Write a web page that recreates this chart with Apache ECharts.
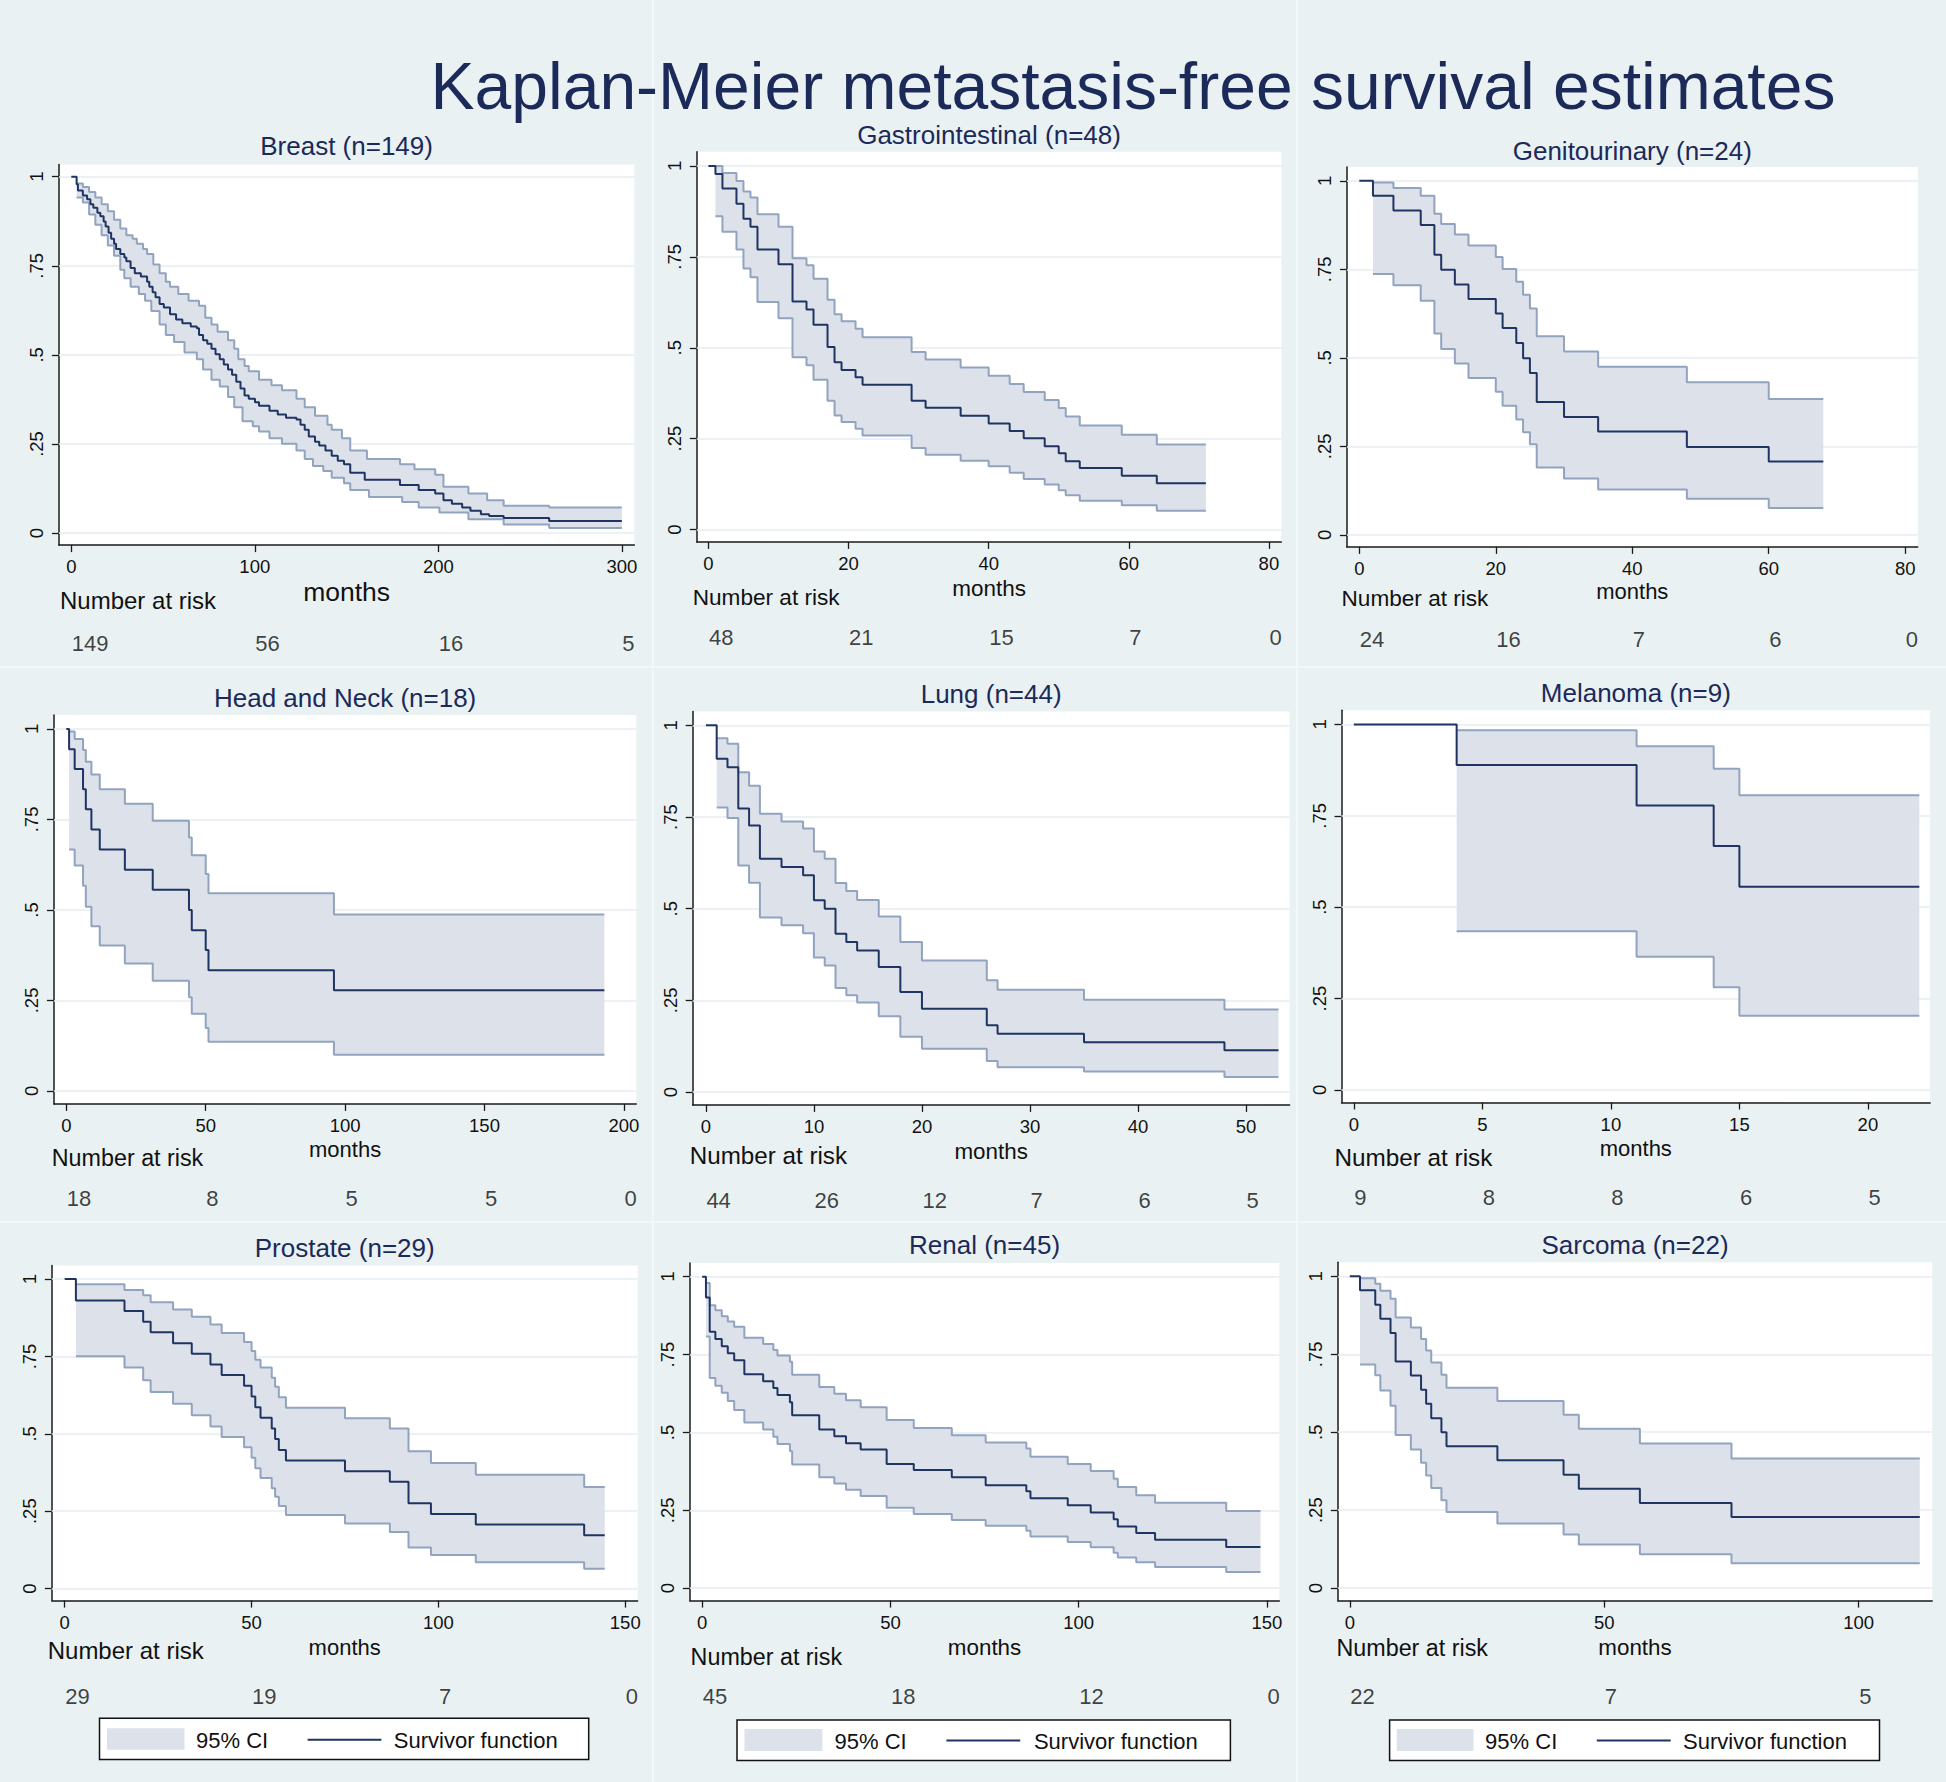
<!DOCTYPE html>
<html><head><meta charset="utf-8">
<script src="https://cdn.jsdelivr.net/npm/echarts@6/dist/echarts.min.js"></script>
<style>html,body{margin:0;padding:0;background:#eaf1f3}#c{width:1946px;height:1782px}</style>
</head><body><div id="c"></div>
<script>
// ---------------- DATA ----------------
const mainTitle = 'Kaplan-Meier metastasis-free survival estimates';
const panelNames = ['Breast (n=149)','Gastrointestinal (n=48)','Genitourinary (n=24)','Head and Neck (n=18)','Lung (n=44)','Melanoma (n=9)','Prostate (n=29)','Renal (n=45)','Sarcoma (n=22)'];
const yTicks = [0, 0.25, 0.5, 0.75, 1];
const yTickLabels = ['0', '.25', '.5', '.75', '1'];

// Breast
const breastT = [0,2.9,3.6,6.3,8.6,10.4,12.0,14.2,15.8,17.6,18.7,20.3,21.7,23.3,24.4,26.7,28.9,30.0,32.3,34.6,37.9,41.3,42.5,44.3,45.9,48.1,50.4,53.8,57.1,60.5,65.1,68.4,69.6,71.8,74.1,76.4,78.6,80.9,83.1,85.4,87.6,89.9,92.2,94.4,96.7,100.1,102.3,108.0,112.5,117.0,122.7,124.9,127.2,129.4,132.8,135.1,138.5,141.9,145.2,148.6,152.0,159.9,179.1,189.3,198.3,202.8,207.4,213.0,217.5,223.2,227.7,235.6,260.4,300];
const breastS = [1,0.979,0.961,0.947,0.937,0.923,0.913,0.899,0.889,0.874,0.860,0.843,0.826,0.812,0.797,0.783,0.773,0.763,0.744,0.729,0.720,0.705,0.691,0.676,0.662,0.643,0.633,0.614,0.599,0.589,0.580,0.575,0.556,0.541,0.531,0.517,0.502,0.488,0.473,0.459,0.444,0.425,0.406,0.386,0.377,0.367,0.357,0.343,0.333,0.324,0.319,0.304,0.290,0.271,0.256,0.246,0.232,0.217,0.203,0.193,0.169,0.150,0.135,0.121,0.111,0.092,0.082,0.072,0.063,0.053,0.048,0.042,0.034,0.034];
const breastUT = [2.9,6.3,9.7,13.1,16.5,19.9,23.3,26.7,30.0,33.4,35.7,39.1,41.3,44.7,48.1,51.5,53.8,58.3,63.9,69.6,73.0,76.4,79.7,85.4,88.8,91.0,94.4,96.7,102.3,109.1,114.8,122.7,127.2,132.8,139.6,141.9,147.5,152.0,161.1,179.1,187.0,198.3,202.8,216.4,226.6,235.6,260.4,300];
const breastU = [0.981,0.971,0.957,0.942,0.923,0.903,0.879,0.855,0.836,0.826,0.812,0.797,0.783,0.754,0.729,0.705,0.691,0.671,0.652,0.638,0.604,0.585,0.565,0.541,0.517,0.488,0.469,0.454,0.430,0.415,0.401,0.377,0.353,0.329,0.304,0.290,0.266,0.232,0.208,0.193,0.179,0.164,0.130,0.111,0.092,0.077,0.072,0.072];
const breastLT = [2.9,6.3,9.7,13.1,16.5,19.9,23.3,26.7,28.9,32.3,36.8,40.2,43.6,48.1,51.5,56.0,61.7,68.4,71.8,76.4,80.9,85.4,88.8,93.3,98.9,102.3,108.0,114.8,122.7,127.2,131.7,137.3,141.9,148.6,152.0,162.2,180.3,189.3,200.6,216.4,235.6,260.4,300];
const breastL = [0.942,0.928,0.894,0.865,0.836,0.807,0.778,0.739,0.715,0.691,0.671,0.652,0.623,0.585,0.556,0.536,0.507,0.488,0.459,0.430,0.411,0.382,0.353,0.314,0.300,0.285,0.266,0.251,0.232,0.208,0.188,0.174,0.155,0.140,0.121,0.101,0.087,0.072,0.058,0.039,0.024,0.014,0.014];
const breastTicks = [0,100,200,300];
const breastRisk = [149,56,16,5];

// Gastrointestinal
const gastroT = [0,1,2,4,5,6,7,10,12,14,15,17,18,19,21,22,29,31,36,40,43,45,48,50,51,53,59,64,71];
const gastroS = [1,0.978,0.938,0.896,0.855,0.833,0.770,0.730,0.627,0.605,0.563,0.502,0.460,0.439,0.419,0.398,0.354,0.335,0.313,0.292,0.271,0.251,0.229,0.210,0.188,0.169,0.148,0.127,0.127];
const gastroCT = [1,2,4,5,6,7,10,12,14,15,17,18,19,21,22,29,31,36,40,43,45,48,50,51,53,59,64,71];
const gastroU = [1.0,0.981,0.959,0.930,0.913,0.867,0.833,0.746,0.727,0.690,0.632,0.592,0.573,0.552,0.529,0.488,0.468,0.446,0.423,0.400,0.378,0.356,0.334,0.311,0.286,0.261,0.234,0.234];
const gastroL = [0.862,0.819,0.770,0.718,0.694,0.626,0.581,0.474,0.452,0.412,0.354,0.314,0.296,0.277,0.259,0.224,0.206,0.189,0.174,0.156,0.139,0.124,0.108,0.094,0.079,0.067,0.052,0.052];
const gastroTicks = [0,20,40,60,80];
const gastroRisk = [48,21,15,7,0];

// Genitourinary
const genitoT = [0,2,5,9,11,12,14,16,20,21,23,24,25,26,30,35,48,60,68];
const genitoS = [1,0.958,0.916,0.875,0.791,0.749,0.707,0.666,0.625,0.584,0.542,0.499,0.457,0.375,0.333,0.292,0.248,0.207,0.207];
const genitoCT = [2,5,9,11,12,14,16,20,21,23,24,25,26,30,35,48,60,68];
const genitoU = [0.995,0.980,0.958,0.907,0.878,0.848,0.817,0.785,0.751,0.715,0.678,0.639,0.561,0.518,0.475,0.431,0.384,0.384];
const genitoL = [0.737,0.705,0.661,0.569,0.525,0.484,0.443,0.404,0.365,0.326,0.290,0.256,0.190,0.159,0.128,0.102,0.076,0.076];
const genitoTicks = [0,20,40,60,80];
const genitoRisk = [24,16,7,6,0];

// Head and Neck
const hnT = [0,1,3,6,7,9,12,21,31,44,45,50,51,96,193];
const hnS = [1,0.944,0.889,0.833,0.778,0.722,0.667,0.611,0.556,0.500,0.444,0.389,0.333,0.278,0.278];
const hnCT = [1,3,6,7,9,12,21,31,44,45,50,51,96,193];
const hnU = [0.993,0.972,0.942,0.909,0.874,0.833,0.793,0.746,0.700,0.651,0.599,0.546,0.487,0.487];
const hnL = [0.667,0.623,0.567,0.509,0.455,0.402,0.352,0.304,0.259,0.213,0.174,0.136,0.100,0.100];
const hnTicks = [0,50,100,150,200];
const hnRisk = [18,8,5,5,0];

// Lung
const lungT = [0,1,2,3,4,5,7,9,10,11,12,13,14,16,18,20,26,27,35,48,53];
const lungS = [1,0.909,0.886,0.773,0.727,0.636,0.614,0.591,0.523,0.500,0.432,0.409,0.386,0.341,0.273,0.227,0.182,0.159,0.136,0.114,0.114];
const lungCT = [1,2,3,4,5,7,9,10,11,12,13,14,16,18,20,26,27,35,48,53];
const lungU = [0.965,0.950,0.872,0.835,0.759,0.738,0.719,0.656,0.636,0.570,0.548,0.524,0.479,0.409,0.359,0.305,0.279,0.252,0.225,0.225];
const lungL = [0.776,0.747,0.618,0.571,0.476,0.455,0.433,0.367,0.345,0.284,0.264,0.244,0.207,0.151,0.118,0.085,0.068,0.056,0.041,0.041];
const lungTicks = [0,10,20,30,40,50];
const lungRisk = [44,26,12,7,6,5];

// Melanoma
const melT = [0,4,11,14,15,22];
const melS = [1,0.889,0.778,0.667,0.556,0.556];
const melCT = [4,11,14,15,22];
const melU = [0.984,0.940,0.879,0.806,0.806];
const melL = [0.434,0.364,0.281,0.203,0.203];
const melTicks = [0,5,10,15,20];
const melRisk = [9,8,8,6,5];

// Prostate
const prosT = [0,3,16,21,23,29,34,39,42,48,50,51,52.4,55.4,56.3,57.3,59.2,75,87,92,98,110,139,144.5];
const prosS = [1,0.931,0.897,0.862,0.828,0.793,0.759,0.724,0.690,0.655,0.621,0.586,0.552,0.517,0.483,0.448,0.414,0.379,0.345,0.276,0.241,0.207,0.172,0.172];
const prosCT = [3,16,21,23,29,34,39,42,48,50,51,52.4,55.4,56.3,57.3,59.2,75,87,92,98,110,139,144.5];
const prosU = [0.983,0.965,0.948,0.925,0.902,0.878,0.853,0.826,0.797,0.768,0.739,0.714,0.681,0.652,0.618,0.584,0.550,0.517,0.444,0.406,0.368,0.328,0.328];
const prosL = [0.751,0.714,0.673,0.635,0.597,0.560,0.524,0.490,0.457,0.423,0.389,0.357,0.324,0.297,0.267,0.238,0.210,0.183,0.133,0.108,0.085,0.064,0.064];
const prosTicks = [0,50,100,150];
const prosRisk = [29,19,7,0];

// Renal
const renalT = [0,1,2,3.5,5.2,6.8,8.5,11.2,16.2,18.9,20,23.3,23.9,31.1,35.1,38.2,42.1,49,56.2,66.3,75.3,86.1,87.2,97.1,103.2,109.3,110.4,115.3,120.3,139.2,148.3];
const renalS = [1,0.933,0.823,0.800,0.777,0.754,0.732,0.687,0.664,0.643,0.620,0.597,0.555,0.509,0.488,0.465,0.445,0.399,0.379,0.356,0.330,0.311,0.289,0.266,0.243,0.221,0.198,0.177,0.155,0.132,0.132];
const renalCT = [1,2,3.5,5.2,6.8,8.5,11.2,16.2,18.9,20,23.3,23.9,31.1,35.1,38.2,42.1,49,56.2,66.3,75.3,86.1,87.2,97.1,103.2,109.3,110.4,115.3,120.3,139.2,148.3];
const renalU = [0.980,0.908,0.892,0.873,0.856,0.839,0.804,0.784,0.765,0.747,0.727,0.685,0.646,0.624,0.603,0.581,0.540,0.514,0.491,0.468,0.448,0.422,0.399,0.376,0.351,0.325,0.298,0.274,0.248,0.248];
const renalL = [0.808,0.675,0.650,0.627,0.601,0.572,0.532,0.509,0.486,0.463,0.440,0.397,0.356,0.336,0.316,0.296,0.258,0.238,0.219,0.200,0.184,0.166,0.148,0.131,0.114,0.098,0.083,0.068,0.052,0.052];
const renalTicks = [0,50,100,150];
const renalRisk = [45,18,12,0];

// Sarcoma
const sarcT = [0,2,5,6,8,9,12,14,15,16,18,19,29,42,45,57,75,112];
const sarcS = [1,0.955,0.909,0.864,0.818,0.727,0.682,0.636,0.591,0.545,0.500,0.455,0.410,0.364,0.319,0.273,0.228,0.228];
const sarcCT = [2,5,6,8,9,12,14,15,16,18,19,29,42,45,57,75,112];
const sarcU = [0.994,0.976,0.954,0.928,0.868,0.836,0.799,0.762,0.724,0.684,0.643,0.600,0.556,0.511,0.464,0.416,0.416];
const sarcL = [0.717,0.683,0.634,0.585,0.491,0.445,0.402,0.361,0.321,0.282,0.244,0.207,0.172,0.140,0.109,0.080,0.080];
const sarcTicks = [0,50,100];
const sarcRisk = [22,7,5];

const legendLabels = ['95% CI', 'Survivor function'];

// ---------------- PANELS ----------------
const panels = [
  {T:breastT,S:breastS,UT:breastUT,U:breastU,LT:breastLT,L:breastL,ticks:breastTicks,risk:breastRisk},
  {T:gastroT,S:gastroS,UT:gastroCT,U:gastroU,LT:gastroCT,L:gastroL,ticks:gastroTicks,risk:gastroRisk},
  {T:genitoT,S:genitoS,UT:genitoCT,U:genitoU,LT:genitoCT,L:genitoL,ticks:genitoTicks,risk:genitoRisk},
  {T:hnT,S:hnS,UT:hnCT,U:hnU,LT:hnCT,L:hnL,ticks:hnTicks,risk:hnRisk},
  {T:lungT,S:lungS,UT:lungCT,U:lungU,LT:lungCT,L:lungL,ticks:lungTicks,risk:lungRisk},
  {T:melT,S:melS,UT:melCT,U:melU,LT:melCT,L:melL,ticks:melTicks,risk:melRisk},
  {T:prosT,S:prosS,UT:prosCT,U:prosU,LT:prosCT,L:prosL,ticks:prosTicks,risk:prosRisk},
  {T:renalT,S:renalS,UT:renalCT,U:renalU,LT:renalCT,L:renalL,ticks:renalTicks,risk:renalRisk},
  {T:sarcT,S:sarcS,UT:sarcCT,U:sarcU,LT:sarcCT,L:sarcL,ticks:sarcTicks,risk:sarcRisk}
];

// ---------------- LAYOUT ----------------
const layout = [
 {l:58.9, t:164.6, w:575.4, h:380.5, x0:-6.76, x1:306.8, y0:-0.0337, y1:1.034, ty:145.7, my:591.6, ms:26.5, nx:60, ny:600.2, ns:24, ry:643.3},
 {l:696.8, t:151.8, w:584.5, h:390.1, x0:-1.66, x1:81.77, y0:-0.034, y1:1.039, ty:135.3, my:588.5, ms:22.5, nx:692.7, ny:597.3, ns:22.6, ry:637.6},
 {l:1346.9, t:167, w:570.8, h:379.9, x0:-1.82, x1:81.83, y0:-0.034, y1:1.039, ty:150.8, my:591.6, ms:22, nx:1341.5, ny:598.5, ns:22.6, ry:639.8},
 {l:53.9, t:714.9, w:582.4, h:389, x0:-4.45, x1:204.45, y0:-0.0359, y1:1.0387, ty:698, my:1149.8, ms:22, nx:51.8, ny:1157.5, ns:23.3, ry:1198.9},
 {l:692.7, t:711.4, w:596.9, h:393.5, x0:-1.22, x1:54.03, y0:-0.035, y1:1.038, ty:693.9, my:1151.2, ms:22.4, nx:689.8, ny:1155.8, ns:24.2, ry:1200.3},
 {l:1341.5, t:710.3, w:588.6, h:392.2, x0:-0.48, x1:22.42, y0:-0.0345, y1:1.0386, ty:692.8, my:1148.8, ms:22, nx:1334.4, ny:1157.5, ns:24.3, ry:1197.9},
 {l:51.8, t:1265.5, w:585.8, h:335.1, x0:-3.45, x1:153.3, y0:-0.039, y1:1.044, ty:1248, my:1647.2, ms:22, nx:47.7, ny:1650.1, ns:24, ry:1696},
 {l:689.8, t:1263, w:589.5, h:337.6, x0:-3.29, x1:153.3, y0:-0.040, y1:1.044, ty:1245, my:1647, ms:22.4, nx:690.6, ny:1656.6, ns:23.3, ry:1696.7},
 {l:1337.8, t:1262.3, w:594.4, h:338.3, x0:-2.36, x1:114.44, y0:-0.040, y1:1.045, ty:1245, my:1647, ms:22.4, nx:1336.5, ny:1648.3, ns:23.3, ry:1696.7}
];
const legendBoxes = [
 {bx:99.5, by:1718.2, bw:489.2, bh:41.2, sx:107, sw:77.5, sy:1728.2, sh:21.5, cx:196, lx1:307.6, lx2:381.4, ly:1739.7, fx:393.8, ty:1740.5},
 {bx:737, by:1720, bw:493.4, bh:40.5, sx:744.5, sw:77.9, sy:1729, sh:22, cx:834.5, lx1:946.4, lx2:1020.2, ly:1740.4, fx:1033.9, ty:1741},
 {bx:1389.6, by:1720, bw:489.9, bh:40.5, sx:1396.7, sw:76.8, sy:1729, sh:22, cx:1485.1, lx1:1596.8, lx2:1670.7, ly:1740.4, fx:1683.1, ty:1741}
];

const FONT = '"Liberation Sans", Arial, Helvetica, sans-serif';
const BG = '#eaf1f3', NAVY = '#1b2a59', BAND = '#dde2ea', CIL = '#91a3bf', SURV = '#1f3463', GRIDC = '#e5edf1', AX = '#1a1a1a', TXT = '#111111';

function zip(T, V) { return T.map((t, i) => [t, V[i]]); }
// step-function vertices (value holds until next time)
function stepPts(T, V) {
  const out = [];
  for (let i = 0; i < T.length; i++) {
    if (i > 0) out.push([T[i], V[i - 1]]);
    out.push([T[i], V[i]]);
  }
  return out;
}

const grids = [], xAxes = [], yAxes = [], series = [], graphics = [];

graphics.push({type:'text', x:1133, y:86, z:10, style:{text:mainTitle, font:'66px ' + FONT, fill:NAVY, align:'center', verticalAlign:'middle'}});
[[653,0,653,1782],[1297,0,1297,1782],[0,667,1946,667],[0,1222,1946,1222]].forEach(s => {
  graphics.push({type:'line', z:-1, shape:{x1:s[0],y1:s[1],x2:s[2],y2:s[3]}, style:{stroke:'#f3f7f8', lineWidth:2}});
});

panels.forEach((p, i) => {
  const L = layout[i];
  const gi = 2 * i, ni = 2 * i + 1;
  grids.push({left:L.l, top:L.t, width:L.w, height:L.h, show:true, backgroundColor:'#ffffff', borderWidth:0, containLabel:false, outerBoundsMode:'none'});
  grids.push({left:L.l, top:L.ry - 12, width:L.w, height:24, show:false, containLabel:false, outerBoundsMode:'none'});
  xAxes.push({type:'value', gridIndex:gi, min:L.x0, max:L.x1,
    axisLine:{show:true, onZero:false, lineStyle:{color:AX, width:1.5}},
    axisTick:{show:true, length:7, customValues:p.ticks, lineStyle:{color:AX, width:1.3}},
    axisLabel:{show:true, customValues:p.ticks, fontSize:18.5, color:TXT, margin:12, fontFamily:FONT},
    splitLine:{show:false}});
  xAxes.push({type:'value', gridIndex:ni, min:L.x0, max:L.x1, show:false});
  yAxes.push({type:'value', gridIndex:gi, min:L.y0, max:L.y1,
    axisLine:{show:true, onZero:false, lineStyle:{color:AX, width:1.5}},
    axisTick:{show:true, length:7, customValues:yTicks, lineStyle:{color:AX, width:1.3}},
    axisLabel:{show:true, customValues:yTicks, rotate:90, margin:13, fontSize:18.5, color:TXT, fontFamily:FONT,
      formatter: v => { const k = yTicks.findIndex(t => Math.abs(t - v) < 1e-9); return k >= 0 ? yTickLabels[k] : ''; }},
    splitLine:{show:false}});
  yAxes.push({type:'value', gridIndex:ni, min:0, max:1, show:false});

  // CI band polygon: upper step path forward, lower step path backward
  const up = stepPts(p.UT, p.U), lowPts = stepPts(p.LT, p.L).reverse();
  series.push({type:'custom', xAxisIndex:gi, yAxisIndex:gi, silent:true, animation:false, z:2,
    data:[[p.UT[0], p.U[0]]],
    renderItem: (params, api) => ({
      type:'polygon', shape:{points: up.concat(lowPts).map(pt => api.coord(pt))},
      style:{fill:BAND, stroke:null}
    }),
    markLine:{silent:true, symbol:['none','none'], label:{show:false}, z:1, animation:false,
      lineStyle:{color:GRIDC, width:1.5, type:'solid'}, emphasis:{disabled:true},
      data: yTicks.map(v => ({yAxis:v}))}
  });
  const common = {type:'line', xAxisIndex:gi, yAxisIndex:gi, step:'end', symbol:'none', silent:true, animation:false};
  series.push(Object.assign({}, common, {data:zip(p.UT, p.U), lineStyle:{color:CIL, width:2}, z:3}));
  series.push(Object.assign({}, common, {data:zip(p.LT, p.L), lineStyle:{color:CIL, width:2}, z:3}));
  series.push(Object.assign({}, common, {data:zip(p.T, p.S), lineStyle:{color:SURV, width:2}, z:4}));
  // numbers at risk
  series.push({type:'scatter', xAxisIndex:ni, yAxisIndex:ni, silent:true, animation:false, clip:false,
    data: p.ticks.map((t, j) => [t, 0.5, p.risk[j]]), symbolSize:1, itemStyle:{color:'rgba(0,0,0,0)'},
    label:{show:true, position:'right', distance:0, formatter: d => String(d.data[2]), fontSize:22, color:TXT, fontFamily:FONT}});

  const cx = L.l + L.w / 2;
  graphics.push({type:'text', x:cx, y:L.ty, style:{text:panelNames[i], font:'26px ' + FONT, fill:NAVY, align:'center', verticalAlign:'middle'}});
  graphics.push({type:'text', x:cx, y:L.my, style:{text:'months', font:L.ms + 'px ' + FONT, fill:TXT, align:'center', verticalAlign:'middle'}});
  graphics.push({type:'text', x:L.nx, y:L.ny, style:{text:'Number at risk', font:L.ns + 'px ' + FONT, fill:TXT, align:'left', verticalAlign:'middle'}});
});

legendBoxes.forEach(b => {
  graphics.push({type:'rect', shape:{x:b.bx, y:b.by, width:b.bw, height:b.bh}, style:{fill:'#ffffff', stroke:'#111', lineWidth:1.5}});
  graphics.push({type:'rect', shape:{x:b.sx, y:b.sy, width:b.sw, height:b.sh}, style:{fill:BAND}});
  graphics.push({type:'text', x:b.cx, y:b.ty, style:{text:legendLabels[0], font:'22px ' + FONT, fill:TXT, align:'left', verticalAlign:'middle'}});
  graphics.push({type:'line', shape:{x1:b.lx1, y1:b.ly, x2:b.lx2, y2:b.ly}, style:{stroke:SURV, lineWidth:2}});
  graphics.push({type:'text', x:b.fx, y:b.ty, style:{text:legendLabels[1], font:'22px ' + FONT, fill:TXT, align:'left', verticalAlign:'middle'}});
});

const chart = echarts.init(document.getElementById('c'), null, {renderer:'svg', width:1946, height:1782});
chart.setOption({
  animation:false,
  backgroundColor:BG,
  textStyle:{fontFamily:FONT},
  grid:grids, xAxis:xAxes, yAxis:yAxes, series:series,
  graphic:{elements:graphics}
});
</script></body></html>
